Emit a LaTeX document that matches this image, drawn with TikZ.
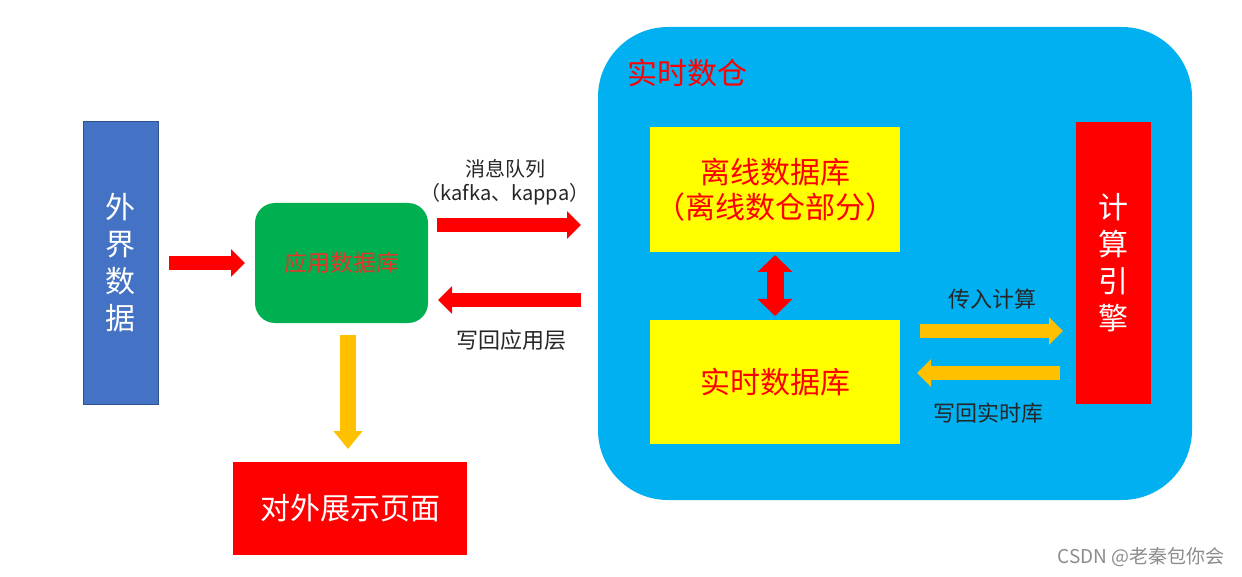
\documentclass[tikz,border=0pt]{standalone}
\usepackage{fontspec}
\setmainfont{Noto Sans CJK SC}
\usetikzlibrary{arrows.meta}
\definecolor{extblue}{HTML}{4472C4}
\definecolor{extborder}{HTML}{2F528F}
\definecolor{appgreen}{HTML}{00B050}
\definecolor{dwblue}{HTML}{00B0F0}
\definecolor{boxyellow}{HTML}{FFFF00}
\definecolor{boxred}{HTML}{FF0000}
\definecolor{arrorange}{HTML}{FFC000}
\definecolor{apptext}{RGB}{225,55,40}
\definecolor{labeltext}{HTML}{262626}
\definecolor{wmgray}{HTML}{8C8C8C}
\newcommand{\fs}[2]{\fontsize{#1}{#2}\selectfont}
\tikzset{
  box/.style={inner sep=0pt, align=center},
  lbl/.style={inner sep=0pt, align=center, text=labeltext, font=\fs{20}{24}},
  redarr/.style={draw=boxred, line width=14pt, -{Triangle[length=14pt,width=27pt]}},
  orarr/.style={draw=arrorange, line width=14pt, -{Triangle[length=14pt,width=27pt]}},
}
\begin{document}
\begin{tikzpicture}[x=1pt,y=-1pt]
\useasboundingbox[fill=white] (0,0) rectangle (1242,577);
% big container
\node[box, fill=dwblue, rounded corners=70pt, minimum width=594pt, minimum height=473pt] (dw) at (895,263.5) {};
\node[box, anchor=west, text=boxred, font=\fs{30}{34}] (dwt) at (627,73) {实时数仓};
% left boxes
\node[box, fill=extblue, draw=extborder, line width=1pt, minimum width=75pt, minimum height=282pt, text=white, font=\fs{30}{37}] (ext) at (120.5,263) {外\\界\\数\\据};
\node[box, fill=appgreen, rounded corners=20pt, minimum width=173pt, minimum height=120pt, text=apptext, font=\fs{23}{28}] (app) at (341.5,263) {应用数据库};
\node[box, fill=boxred, minimum width=234pt, minimum height=93pt, text=white, font=\fs{30}{36}] (show) at (350,508.5) {对外展示页面};
% inner boxes
\node[box, fill=boxyellow, minimum width=250pt, minimum height=125pt, text=boxred, font=\fs{30}{35}] (off) at (775,189.5) {离线数据库\\（离线数仓部分）};
\node[box, fill=boxyellow, minimum width=250pt, minimum height=124pt, text=boxred, font=\fs{30}{35}] (rt) at (775,382) {实时数据库};
\node[box, fill=boxred, minimum width=75pt, minimum height=282pt, text=white, font=\fs{30}{37}] (eng) at (1113.5,263) {计\\算\\引\\擎};
% connector end points
\coordinate (a1s) at (169,263);
\coordinate (a1e) at (245,263);
\coordinate (a2s) at (437,225);
\coordinate (a2e) at (581,225);
\coordinate (a3s) at (581,300);
\coordinate (a3e) at (438,300);
\coordinate (a4s) at (348,335);
\coordinate (a4e) at (348,449);
\coordinate (a5s) at (775,255);
\coordinate (a5e) at (775,316);
\coordinate (a6s) at (920,331);
\coordinate (a6e) at (1063,331);
\coordinate (a7s) at (1060,373);
\coordinate (a7e) at (917,373);
% connectors
\draw[redarr] (a1s) -- (a1e);
\draw[redarr] (a2s) -- (a2e);
\draw[redarr] (a3s) -- (a3e);
\draw[orarr, line width=16pt, -{Triangle[length=18pt,width=28pt]}] (a4s) -- (a4e);
\draw[draw=boxred, line width=17pt, {Triangle[length=17pt,width=34pt]}-{Triangle[length=17pt,width=34pt]}] (a5s) -- (a5e);
\draw[orarr] (a6s) -- (a6e);
\draw[orarr] (a7s) -- (a7e);
% labels
\node[lbl, font=\fs{20}{24}] (l1) at (505,182) {消息队列\\（kafka、kappa）};
\node[lbl, font=\fs{22}{24}] (l2) at (511,340) {写回应用层};
\node[lbl, font=\fs{22}{24}] (l3) at (992,299) {传入计算};
\node[lbl, font=\fs{22}{24}] (l4) at (988,413) {写回实时库};
\node[inner sep=0pt, text=wmgray, font=\fs{19}{22}] (wm) at (1141,557) {CSDN @老秦包你会};
\end{tikzpicture}
\end{document}
